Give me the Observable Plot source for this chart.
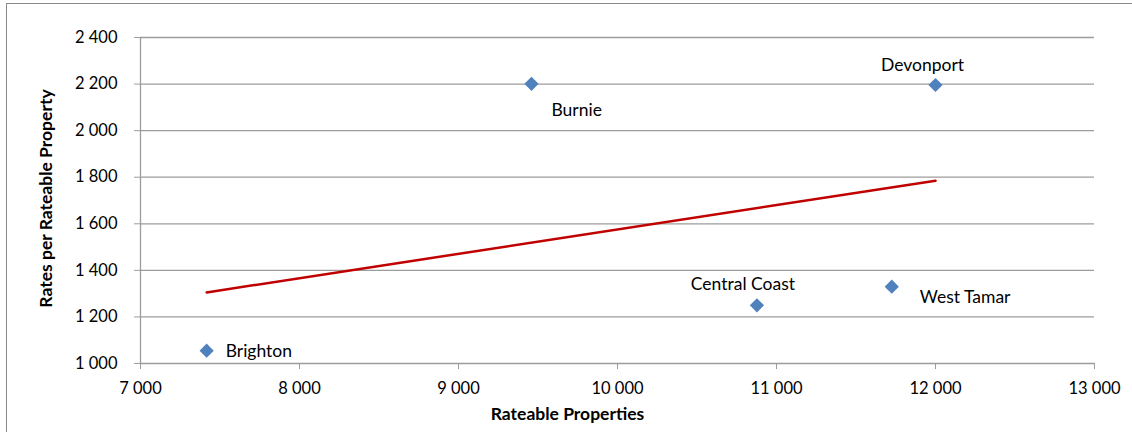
<!DOCTYPE html>
<html>
<head>
<meta charset="utf-8">
<script src="https://cdn.jsdelivr.net/npm/d3@7"></script>
<script src="https://cdn.jsdelivr.net/npm/@observablehq/plot@0.6"></script>
<style>
  html, body { margin: 0; padding: 0; background: #fff; }
  #wrap { position: relative; width: 1132px; height: 432px; overflow: hidden; }
  #frame { position: absolute; left: 6px; top: 3px; right: 0; bottom: -2px;
           border-left: 1px solid #8a8a8a; border-top: 1px solid #8a8a8a; pointer-events: none; }
  #chart svg { display: block; }
</style>
</head>
<body>
<div id="wrap">
  <div id="chart"></div>
  <div id="frame"></div>
</div>
<script>
// Tasmanian councils: number of rateable properties vs rates per rateable property
const councils = ["Brighton", "Burnie", "Devonport", "Central Coast", "West Tamar"];
const rateableProperties = [7416, 9459, 12000, 10877, 11725];
const ratesPerProperty = [1055, 2201, 2196, 1250, 1330];

const xTicks = [7000, 8000, 9000, 10000, 11000, 12000, 13000];
const yTicks = [1000, 1200, 1400, 1600, 1800, 2000, 2200, 2400];

const rows = councils.map((name, i) => ({
  name, x: rateableProperties[i], y: ratesPerProperty[i]
}));

// Space as thousands separator
const fmt = d => d3.format(",")(d).replace(/,/g, " ");

// Label placement around each marker
const labelPlacement = {
  "Brighton":      {textAnchor: "start",  dx: 19,  dy: 1},
  "Burnie":        {textAnchor: "start",  dx: 20,  dy: 27},
  "Devonport":     {textAnchor: "middle", dx: -13, dy: -20},
  "Central Coast": {textAnchor: "middle", dx: -14, dy: -21},
  "West Tamar":    {textAnchor: "start",  dx: 28,  dy: 11}
};

const font = "Lato, 'Open Sans', sans-serif";
const grid = "#9c9c9c";
const tickSize = 16.5;
const labelSize = 17.5;

const chart = Plot.plot({
  width: 1132,
  height: 432,
  marginLeft: 140,
  marginRight: 38,
  marginTop: 37,
  marginBottom: 69,
  style: {fontFamily: font, fontSize: tickSize + "px", color: "#000", background: "transparent"},
  x: {domain: [7000, 13000], ticks: xTicks, tickFormat: fmt, label: null},
  y: {domain: [1000, 2400], ticks: yTicks, tickFormat: fmt, label: null},
  marks: [
    Plot.ruleY(yTicks, {stroke: grid, strokeWidth: 1.3}),
    Plot.ruleX([7000], {stroke: grid, strokeWidth: 1.3}),
    Plot.axisX({ticks: xTicks, tickFormat: fmt, tickSize: 6, tickPadding: 13, stroke: grid, strokeOpacity: 1, label: null, fontSize: tickSize}),
    Plot.axisY({ticks: yTicks, tickFormat: fmt, tickSize: 6, tickPadding: 17, stroke: grid, strokeOpacity: 1, label: null, fontSize: tickSize}),
    Plot.linearRegressionY(rows, {x: "x", y: "y", ci: 0, stroke: "#c00000", strokeWidth: 2.5}),
    Plot.dot(rows, {x: "x", y: "y", symbol: "diamond2", r: 6.4, fill: "#4f81bd", stroke: "none"}),
    ...councils.map(name => Plot.text(rows.filter(d => d.name === name), {
      x: "x", y: "y", text: "name", fontSize: labelSize, fill: "#000", ...labelPlacement[name]
    })),
    // Axis titles
    Plot.text(["Rateable Properties"], {
      frameAnchor: "bottom", textAnchor: "middle", dx: -50, dy: 56, fontWeight: "bold", fontSize: labelSize, fill: "#000"
    }),
    Plot.text(["Rates per Rateable Property"], {
      frameAnchor: "left", textAnchor: "middle", dx: -94, dy: -2, rotate: -90, fontWeight: "bold", fontSize: labelSize, fill: "#000"
    })
  ]
});

document.getElementById("chart").appendChild(chart);
</script>
</body>
</html>
